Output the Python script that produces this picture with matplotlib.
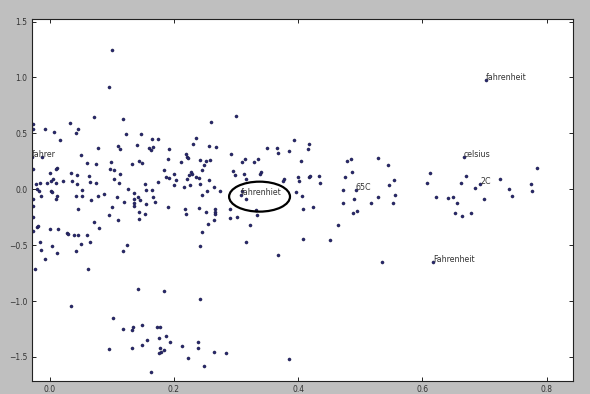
import matplotlib
matplotlib.use("Agg")
import matplotlib.pyplot as plt
from matplotlib.patches import Ellipse

# 2-D word-vector projection: unlabelled vocabulary points
cloud_x = [
    -0.027, -0.027, -0.008, 0.033, 0.046, 0.042, 0.007, 0.071, 0.118, 0.017,
    0.123, 0.147, 0.165, 0.175, 0.140, 0.078, 0.111, 0.114, 0.160, 0.163,
    0.167, 0.193, 0.051, -0.012, 0.191, 0.061, 0.099, 0.144, 0.149, 0.075,
    0.133, 0.012, 0.010, -0.027, 0.185, 0.098, 0.104, 0.000, 0.035, 0.044,
    0.064, 0.114, 0.188, 0.192, 0.103, 0.006, 0.002, 0.021, 0.036, 0.065,
    0.075, -0.022, -0.015, -0.004, 0.010, 0.044, 0.112, 0.153, 0.175, -0.020,
    -0.017, 0.053, 0.127, 0.155, 0.165, 0.002, 0.004, 0.136, 0.087, 0.042,
    -0.013, 0.012, 0.053, 0.078, 0.109, 0.142, 0.167, -0.027, 0.011, 0.066,
    0.136, 0.146, 0.120, 0.136, 0.156, 0.169, -0.027, 0.136, 0.101, 0.191,
    0.046, 0.144, 0.153, 0.096, -0.027, 0.144, 0.110, 0.072, 0.080, -0.020,
    -0.019, 0.000, 0.014, -0.027, 0.028, 0.029, 0.040, 0.046, 0.061, -0.015,
    0.065, 0.051, 0.004, 0.125, -0.014, 0.043, 0.118, 0.012, -0.008, -0.023,
    0.062, 0.101, 0.096,
]
cloud_y = [
    0.584, 0.537, 0.537, 0.593, 0.542, 0.504, 0.510, 0.644, 0.626, 0.438,
    0.492, 0.492, 0.450, 0.450, 0.399, 0.369, 0.387, 0.363, 0.369, 0.352,
    0.381, 0.363, 0.304, 0.286, 0.274, 0.235, 0.242, 0.256, 0.238, 0.224,
    0.229, 0.193, 0.182, 0.179, 0.173, 0.182, 0.173, 0.148, 0.148, 0.131,
    0.119, 0.137, 0.110, 0.104, 0.089, 0.089, 0.077, 0.077, 0.077, 0.065,
    0.056, 0.047, 0.059, 0.054, 0.059, 0.047, 0.059, 0.047, 0.065, 0.005,
    -0.013, -0.009, 0.005, -0.009, -0.009, -0.013, -0.027, -0.036, -0.045, -0.060,
    -0.060, -0.060, -0.060, -0.063, -0.072, -0.072, -0.072, -0.084, -0.087, -0.093,
    -0.084, -0.096, -0.114, -0.120, -0.131, -0.116, -0.149, -0.149, -0.158, -0.158,
    -0.174, -0.206, -0.224, -0.233, -0.250, -0.266, -0.277, -0.290, -0.343, -0.340,
    -0.328, -0.352, -0.352, -0.370, -0.388, -0.400, -0.409, -0.411, -0.409, -0.469,
    -0.474, -0.487, -0.507, -0.501, -0.543, -0.549, -0.549, -0.572, -0.626, -0.716,
    -0.716, 1.246, 0.918,
]

middle_x = [
    0.300, 0.260, 0.235, 0.231, 0.257, 0.268, 0.393, 0.350, 0.366, 0.368,
    0.385, 0.292, 0.219, 0.221, 0.223, 0.211, 0.242, 0.252, 0.259, 0.249,
    0.315, 0.309, 0.329, 0.336, 0.404, 0.246, 0.295, 0.298, 0.313, 0.341,
    0.339, 0.201, 0.227, 0.229, 0.236, 0.225, 0.221, 0.240, 0.203, 0.256,
    0.316, 0.378, 0.376, 0.400, 0.401, 0.200, 0.216, 0.226, 0.242, 0.265,
    0.275, 0.253, 0.246, 0.396, 0.406, 0.310, 0.317, 0.218, 0.219, 0.240,
    0.252, 0.266, 0.266, 0.266, 0.291, 0.291, 0.301, 0.333, 0.334, 0.264,
    0.255, 0.323, 0.246, 0.242, 0.317, 0.368, 0.408,
    0.418, 0.416, 0.479, 0.485, 0.528, 0.544, 0.487, 0.417, 0.420, 0.434,
    0.436, 0.475, 0.555, 0.547, 0.612, 0.608, 0.472, 0.528, 0.556, 0.490,
    0.622, 0.408, 0.424, 0.473, 0.518, 0.553, 0.495, 0.488, 0.465, 0.451,
    0.535,
]
middle_y = [
    0.658, 0.602, 0.462, 0.403, 0.387, 0.381, 0.441, 0.369, 0.369, 0.322,
    0.345, 0.316, 0.313, 0.286, 0.277, 0.244, 0.265, 0.250, 0.259, 0.215,
    0.274, 0.244, 0.247, 0.268, 0.250, 0.173, 0.166, 0.125, 0.134, 0.155,
    0.137, 0.137, 0.152, 0.137, 0.113, 0.128, 0.092, 0.101, 0.086, 0.081,
    0.095, 0.089, 0.074, 0.107, 0.077, 0.036, 0.023, 0.041, 0.045, 0.023,
    -0.013, -0.018, -0.051, -0.024, -0.063, -0.013, -0.087, -0.176, -0.221, -0.170,
    -0.203, -0.174, -0.200, -0.221, -0.174, -0.254, -0.245, -0.182, -0.227, -0.275,
    -0.313, -0.322, -0.385, -0.504, -0.469, -0.588, -0.447,
    0.402, 0.363, 0.250, 0.268, 0.283, 0.217, 0.152, 0.110, 0.119, 0.116,
    0.054, 0.113, 0.086, 0.041, 0.148, 0.054, -0.006, -0.072, -0.054, -0.089,
    -0.072, -0.174, -0.158, -0.125, -0.125, -0.120, -0.191, -0.215, -0.317, -0.453,
    -0.653,
]

right_x = [
    0.785, 0.670, 0.662, 0.725, 0.684, 0.775, 0.739, 0.777, 0.744, 0.642,
    0.649, 0.700, 0.656, 0.652, 0.664, 0.678,
]
right_y = [
    0.188, 0.119, 0.054, 0.089, 0.009, 0.045, 0.000, -0.015, -0.057, -0.078,
    -0.066, -0.084, -0.125, -0.209, -0.236, -0.209,
]

lower_x = [
    0.142, 0.184, 0.242, 0.035, 0.102, 0.118, 0.132, 0.134, 0.149, 0.173,
    0.177, 0.176, 0.188, 0.157, 0.194, 0.214, 0.239, 0.239, 0.096, 0.132,
    0.149, 0.177, 0.185, 0.179, 0.176, 0.264, 0.284, 0.223, 0.385, 0.249,
    0.163,
]
lower_y = [
    -0.893, -0.912, -0.979, -1.042, -1.154, -1.250, -1.256, -1.229, -1.216, -1.234,
    -1.229, -1.327, -1.309, -1.348, -1.369, -1.399, -1.363, -1.419, -1.431, -1.420,
    -1.395, -1.420, -1.437, -1.455, -1.467, -1.455, -1.462, -1.506, -1.521, -1.578,
    -1.637,
]

# Labelled temperature-related words
label_words = ["fahrer", "fahrenhiet", "fahrenheit", "celsius", "65C", "2C", "Fahrenheit"]
label_x = [-0.028, 0.308, 0.702, 0.667, 0.493, 0.693, 0.617]
label_y = [0.289, -0.055, 0.975, 0.292, -0.006, 0.045, -0.650]

# The misspelled word is ringed
highlight_word = "fahrenhiet"

all_x = cloud_x + middle_x + right_x + lower_x + label_x
all_y = cloud_y + middle_y + right_y + lower_y + label_y

fig = plt.figure(figsize=(5.9, 3.94), dpi=100, facecolor="#bfbfbf")
ax = fig.add_axes([0.0534, 0.033, 0.9173, 0.9188])
ax.set_facecolor("white")

ax.scatter(all_x, all_y, s=5, c="#2a2a70", edgecolors="#15153a",
           linewidths=0.3, zorder=2)

for word, x, y in zip(label_words, label_x, label_y):
    ax.annotate(word, (x, y), fontsize=5.7, color="#333333", zorder=3)
    if word == highlight_word:
        ax.add_patch(Ellipse((x + 0.030, y - 0.011), 0.098, 0.268,
                             fill=False, edgecolor="black", linewidth=1.6,
                             zorder=4))

ax.set_xlim(-0.029, 0.842)
ax.set_ylim(-1.715, 1.523)
ax.set_xticks([0.0, 0.2, 0.4, 0.6, 0.8])
ax.set_yticks([-1.5, -1.0, -0.5, 0.0, 0.5, 1.0, 1.5])
ax.tick_params(direction="in", length=3, width=0.6, top=True, right=True,
               labelsize=5.5, labelcolor="#333333", pad=3)
for spine in ax.spines.values():
    spine.set_linewidth(0.8)
    spine.set_color("#222222")

fig.savefig("out.png", dpi=100, facecolor=fig.get_facecolor())
